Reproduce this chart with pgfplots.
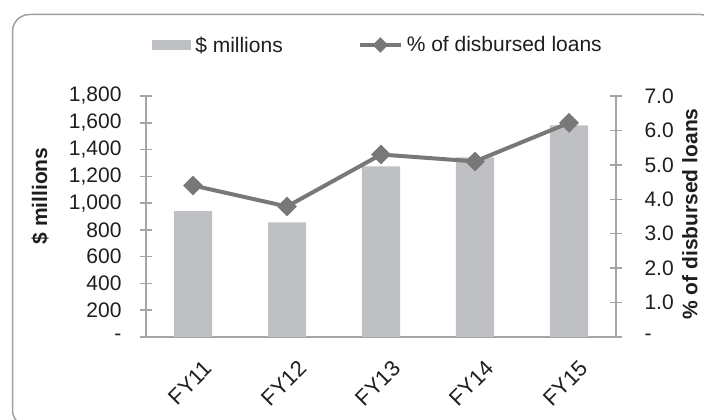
\documentclass[border=0pt]{standalone}
\usepackage{pgfplots}
\pgfplotsset{compat=1.18}
\usepackage{fontspec}
\setmainfont{Liberation Sans}
\definecolor{barc}{RGB}{191,192,196}
\definecolor{linec}{RGB}{120,120,120}
\definecolor{axc}{RGB}{165,165,165}
\definecolor{framec}{RGB}{160,160,160}
\definecolor{txt}{RGB}{30,30,30}
\begin{document}
\begin{tikzpicture}[x=1pt,y=1pt]
\useasboundingbox (0,0) rectangle (704,420);
\begin{scope}
\clip (0,0) rectangle (704,420);
\draw[framec, line width=1.5pt, rounded corners=17pt] (12.5,405.5) rectangle (717,-7);
\end{scope}
\pgfplotsset{
  common/.style={
    at={(146pt,83pt)}, anchor=south west,
    scale only axis, width=470pt, height=241pt,
    xmin=-0.5, xmax=4.5,
    font=\fontsize{21}{25}\selectfont, text=txt,
    axis line style={draw=axc, line width=1.5pt},
    tick style={draw=axc, line width=1.5pt},
    tick align=center,
    major tick length=12pt,
  }
}
\begin{axis}[common,
  ymin=0, ymax=1800,
  axis y line*=left, axis x line*=bottom,
  ytick={0,200,...,1800},
  yticklabels={-,200,400,600,800,{1,000},{1,200},{1,400},{1,600},{1,800}},
  yticklabel style={xshift=-15pt},
  xtick={0,1,2,3,4},
  xticklabels={FY11,FY12,FY13,FY14,FY15},
  xtick style={draw=none},
  extra x ticks={-0.5,0.5,1.5,2.5,3.5,4.5},
  extra x tick labels={},
  extra x tick style={tick style={draw=axc, line width=1.5pt}, major tick length=10pt},
  xticklabel style={rotate=45, anchor=north east, yshift=-15pt, xshift=-1pt, font=\fontsize{22}{26}\selectfont},
  ylabel={\bfseries \$ millions},
  ylabel style={at={(axis description cs:-0.2255,0.585)}, anchor=center},
  legend style={at={(0.4915,1.2116)}, anchor=center, draw=none, fill=none,
    font=\fontsize{21}{25}\selectfont, text=txt,
    nodes={inner sep=0pt},
    /tikz/every odd column/.append style={column sep=4pt},
    /tikz/every even column/.append style={column sep=75pt}},
  legend columns=2,
]
\addplot[ybar, bar width=38pt, fill=barc, draw=none,
  legend image code/.code={\fill[barc] (0pt,-5.3pt) rectangle (39pt,5.3pt);}]
  coordinates {(0,940) (1,857) (2,1275) (3,1342) (4,1580)};
\addlegendentry{\$ millions}
\addlegendimage{legend image code/.code={\draw[linec, line width=4pt, mark=square*, mark size=3.5pt, mark options={rotate=45,fill=linec}, mark repeat=2, mark phase=2] plot coordinates {(0pt,0pt) (20.5pt,0pt) (41pt,0pt)};}}
\addlegendentry{\% of disbursed loans}
\end{axis}
\begin{axis}[common,
  ymin=0, ymax=7,
  axis y line*=right, axis x line=none,
  ytick={0,1,...,7},
  yticklabels={-,1.0,2.0,3.0,4.0,5.0,6.0,7.0},
  yticklabel style={xshift=19pt},
  ylabel={\bfseries \% of disbursed loans},
  ylabel style={at={(axis description cs:1.157,0.51)}, anchor=center},
]
\addplot[linec, line width=4pt, mark=square*, mark size=5pt, mark options={rotate=45}]
  coordinates {(0,4.40) (1,3.79) (2,5.30) (3,5.10) (4,6.22)};
\end{axis}
\end{tikzpicture}
\end{document}
